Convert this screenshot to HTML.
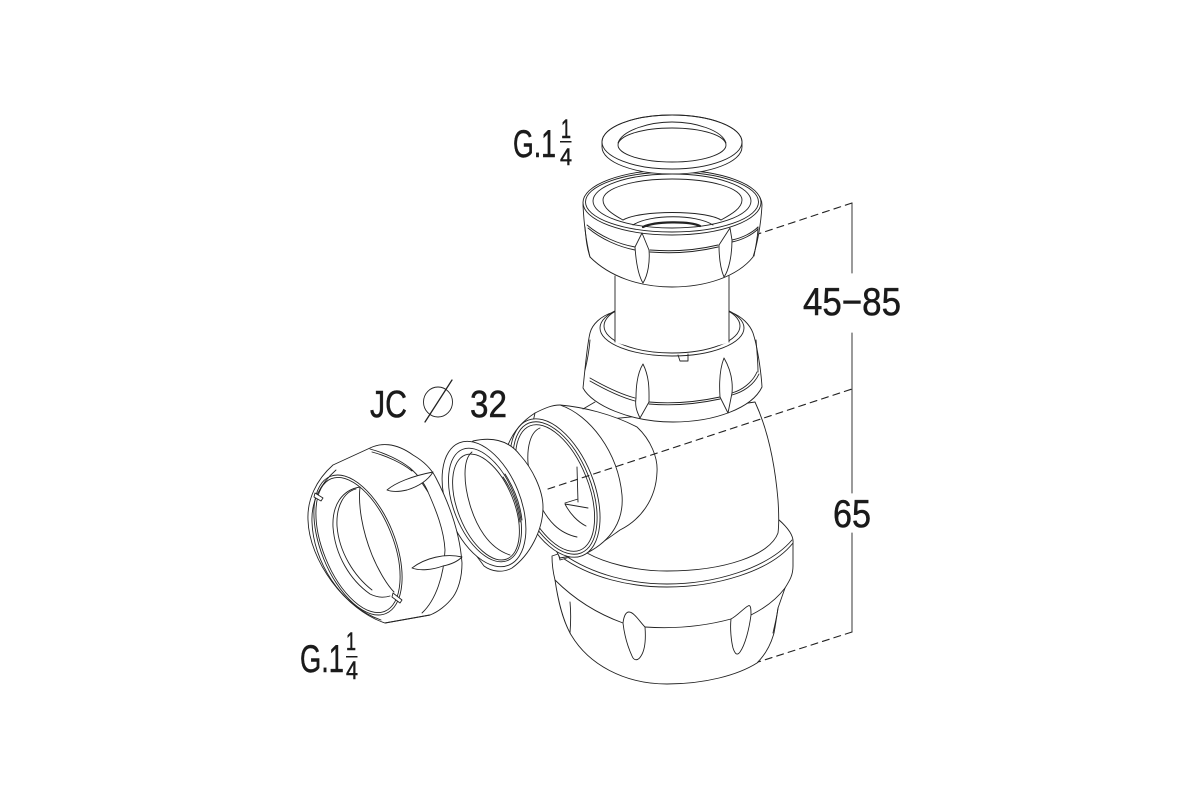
<!DOCTYPE html>
<html><head><meta charset="utf-8"><style>
html,body{margin:0;padding:0;background:#fff;width:1200px;height:800px;overflow:hidden}
svg{display:block}
.l path,.l ellipse,.l line,.l polyline{stroke:#222;stroke-width:.9;fill:none;stroke-linecap:round;stroke-linejoin:round}
.l .w{fill:#fff}
.l .d{stroke-dasharray:7 5;stroke-width:1.1}
text{font-family:"Liberation Sans",sans-serif;fill:#1a1a1a;stroke:#1a1a1a;stroke-width:.5}
</style></head><body>
<svg width="1200" height="800" viewBox="0 0 1200 800" xmlns="http://www.w3.org/2000/svg">
<g class="l">
<!-- dimension lines -->
<path d="M852 203V273M852 333V493M852 533V632"/>
<path class="d" d="M852 203L758 234"/>
<path class="d" d="M852 632L755 663"/>

<!-- bowl -->
<path class="w" d="M552 556C552 566 553 572 555 580C558 600 562 618 570 633C588 665 625 684 667 684C705 684 738 675 757 663C766 654 771 644 774 633C776 622 777 615 778 608L785 588C790 580 793 575 793 566L793 543C790 532 786 526 779 520L700 500L600 540Z"/>
<path d="M555 580C575 600 598 614 623 623M645 627C675 629 705 626 731 619M751 615C765 608 776 600 785 588"/>
<path d="M570 602C571 612 571 620 570 633M778 608C777 616 775 624 773 633"/>
<!-- bowl ribs -->
<path class="w" d="M623 623C624 615 626 612 629 612C634 612 640 622 645 627C646 640 645 650 641 656C638 661 634 661 632 656C627 645 624 632 623 623Z"/>
<path class="w" d="M731 619C737 616 744 608 748 606C751 604 751 610 751 615C749 630 745 645 740 652C737 656 735 654 733 648C731 640 730 628 731 619Z"/>
<!-- collar lines -->
<path class="w" d="M560 556C590 578 630 587 667 587C715 587 770 572 793 543C794 535 787 527 779 520L740 530L600 535Z"/>
<path d="M563 554C593 575 632 584 667 584C713 584 767 569 792 540"/>

<!-- trap body -->
<path class="w" d="M755 402C768 430 775 465 778 500C779 515 779 525 778 533C770 555 725 571 667 571C635 571 605 563 587 553L600 420L700 410Z"/>

<!-- elbow -->
<path class="w" d="M560 405C583 407 612 414 637 427C651 440 658 458 657 472C656 500 640 520 620 530C610 537 597 547 583 553L560 560L530 450Z"/>
<path d="M583 409L595 402"/>
<path class="w" d="M535 413C545 408 552 405 560 405C590 415 618 452 622 495C624 520 612 540 587 553L560 558L520 480Z"/>
<!-- port -->
<ellipse class="w" cx="555" cy="488" rx="38.6" ry="73" transform="rotate(-22 555 488)"/>
<path d="M508 445C514 430 524 420 535 413"/>
<ellipse cx="555" cy="488" rx="35.5" ry="70" transform="rotate(-22 555 488)"/>
<ellipse cx="555" cy="488" rx="33" ry="67" transform="rotate(-22 555 488)"/>
<path d="M540 428C530 432 527 448 528 463C530 480 534 492 540 505C548 520 558 533 577 537"/>
<path d="M577 467L578 502M565 503L578 499M588 508L565 504C570 514 578 522 586 526"/>
<path class="d" d="M548 489L852 389"/>

<!-- lower nut -->
<path class="w" d="M614 312C600 316 592 325 590 333C587 345 585 370 583 388C592 405 630 422 673 422C715 422 752 408 762 387C761 370 757 345 753 333C750 325 742 316 730 312Z"/>
<ellipse cx="672" cy="328" rx="72" ry="28"/>
<ellipse cx="672" cy="326" rx="68" ry="27"/>
<path d="M590 340C589 352 587 362 585 370M756 340C757 352 758 362 758 372"/>
<path d="M590 378C604 386 620 394 635 398M590 381C604 389 620 397 635 401"/>
<path d="M649 402C672 404 697 402 720 397M649 404C672 406 697 404 720 399"/>
<path d="M732 393C742 390 752 383 757 372M732 395C743 392 754 385 759 374"/>
<path class="w" d="M643 364C650 378 649 392 649 402L640 418C636 410 635 405 636 398C636 385 638 372 643 364Z"/>
<path class="w" d="M724 358C731 370 733 382 732 393L728 413L720 397C719 382 720 368 724 358Z"/>
<path d="M678 355L680 361H688L688 354"/>

<!-- tube -->
<path class="w" d="M615 278V342C640 352 705 352 729 342V278Z" stroke="none" style="stroke:none"/>
<path d="M615 276V342M729 276V342"/>

<!-- upper nut -->
<path class="w" d="M583 205C584 225 587 245 590 257C610 277 640 287 672 287C705 287 737 277 753 257C757 245 761 225 762 205C762 185 720 170 672 170C625 170 583 185 583 205Z"/>
<ellipse class="w" cx="672" cy="202.500" rx="89" ry="32.500"/>
<ellipse cx="672" cy="202" rx="86.500" ry="30"/>
<ellipse cx="672" cy="201" rx="79" ry="27"/>
<path d="M623 220C612 214 603 208 603 200C603 188 634 179 672 179C711 179 742 188 742 200C742 208 732 214 721 220"/>
<path d="M623 220C640 210 705 210 721 220"/>
<path d="M633 225C650 214 696 214 713 225"/>
<path d="M643 227C655 221 690 221 700 226" style="stroke-width:2.2"/>
<path d="M587 225C600 236 618 244 635 247M588 228C601 239 619 247 635 250"/>
<path d="M650 250C675 252 697 250 718 245M650 252C675 254 697 252 718 247"/>
<path d="M732 240C742 238 752 233 758 227M732 242C742 240 752 235 758 229"/>
<path d="M585 227C586 240 587 248 590 257M754 256C756 245 758 236 758 227"/>
<path class="w" d="M642 233L635 247C636 262 638 275 643 283C648 275 650 262 649 250Z"/>
<path class="w" d="M730 228L719 245C719 258 721 270 724 277C729 270 732 255 732 240Z"/>

<!-- gasket -->
<path class="w" d="M602 142V147C602 162 634 174 672 174C710 174 742 162 742 147V142C742 127 710 115 672 115C634 115 602 127 602 142Z"/>
<ellipse cx="672" cy="142" rx="70" ry="27"/>
<ellipse cx="672" cy="145" rx="54" ry="17"/>
<path d="M618 143C622 130 650 122 672 122C695 122 722 130 726 143"/>

<!-- middle ring -->
<path class="w" d="M473 441C495 436 510 442 520 455C532 468 543 490 543 507C543 530 530 555 512 568C503 573 492 572 484 566L450 520L445 470Z"/>
<ellipse class="w" cx="484" cy="504" rx="36.5" ry="66" transform="rotate(-22 484 504)"/>
<ellipse cx="485" cy="505" rx="31" ry="60" transform="rotate(-22 485 505)"/>
<ellipse cx="486" cy="507" rx="28" ry="56" transform="rotate(-22 486 507)"/>
<path d="M472 452C462 460 464 485 470 505C476 525 488 548 510 555"/>
<path d="M503 477C512 490 518 505 520 522M505 474C514 488 520 503 522 520"/>

<!-- left nut -->
<path class="w" d="M333 465L370 448C380 443 395 442 413 455C425 462 432 470 436 478C450 505 460 535 462 563C462 578 458 590 453 597C447 605 438 612 430 615L385 623C345 610 309 560 308 520C307 500 316 480 333 465Z"/>
<path d="M336 470C320 484 311 502 312 522C313 560 340 606 381 620"/>
<path d="M370 449C385 453 400 460 410 468C418 475 424 482 428 492C436 510 444 530 445 550C444 575 436 600 422 613M372 452C387 456 402 463 412 471"/>
<ellipse cx="358" cy="545" rx="37" ry="74" transform="rotate(-22 358 545)"/>
<ellipse cx="358" cy="545" rx="35" ry="71.500" transform="rotate(-22 358 545)"/>
<path d="M360 487C342 490 332 505 333 527C335 555 350 580 370 594C378 598 384 598 390 596"/>
<path d="M356 489C344 492 336 506 337 526C339 552 354 576 372 590"/>
<path d="M360 487C358 505 362 530 372 555C379 572 388 586 394 592"/>
<path class="w" d="M387 490C395 483 412 476 433 472C428 480 420 486 407 490C398 492 392 492 387 490Z"/>
<path class="w" d="M412 568C425 558 445 553 462 557C456 563 448 565 443 566C432 570 420 571 412 568Z"/>
<path d="M422 483L428 492"/>
<path class="w" d="M315 493L323 498L321 501L314 497Z"/>
<path class="w" d="M393 593L402 600L400 603L392 597Z"/>
<path d="M385 623L430 615"/>

<!-- phi -->
<ellipse cx="438" cy="402" rx="14.5" ry="15"/>
<path d="M425 422L452 380" style="stroke-width:1.3"/>
</g>

<!-- labels -->
<text x="513" y="157" font-size="39" textLength="43" lengthAdjust="spacingAndGlyphs">G.1</text>
<text x="561" y="138" font-size="27" textLength="10" lengthAdjust="spacingAndGlyphs">1</text>
<rect x="560" y="141" width="11.500" height="1.500" fill="#1a1a1a"/>
<text x="560" y="165" font-size="24" textLength="12" lengthAdjust="spacingAndGlyphs">4</text>

<text x="300" y="672" font-size="39" textLength="44" lengthAdjust="spacingAndGlyphs">G.1</text>
<text x="346" y="650" font-size="25" textLength="10" lengthAdjust="spacingAndGlyphs">1</text>
<rect x="346" y="656" width="11.500" height="1.500" fill="#1a1a1a"/>
<text x="346" y="679" font-size="25" textLength="12" lengthAdjust="spacingAndGlyphs">4</text>

<text x="803" y="315" font-size="39" textLength="98" lengthAdjust="spacingAndGlyphs">45−85</text>
<text x="833" y="527" font-size="39" textLength="38" lengthAdjust="spacingAndGlyphs">65</text>
<text x="370" y="417" font-size="38" textLength="37" lengthAdjust="spacingAndGlyphs">JC</text>
<text x="470" y="417" font-size="38" textLength="37" lengthAdjust="spacingAndGlyphs">32</text>
</svg>
</body></html>
